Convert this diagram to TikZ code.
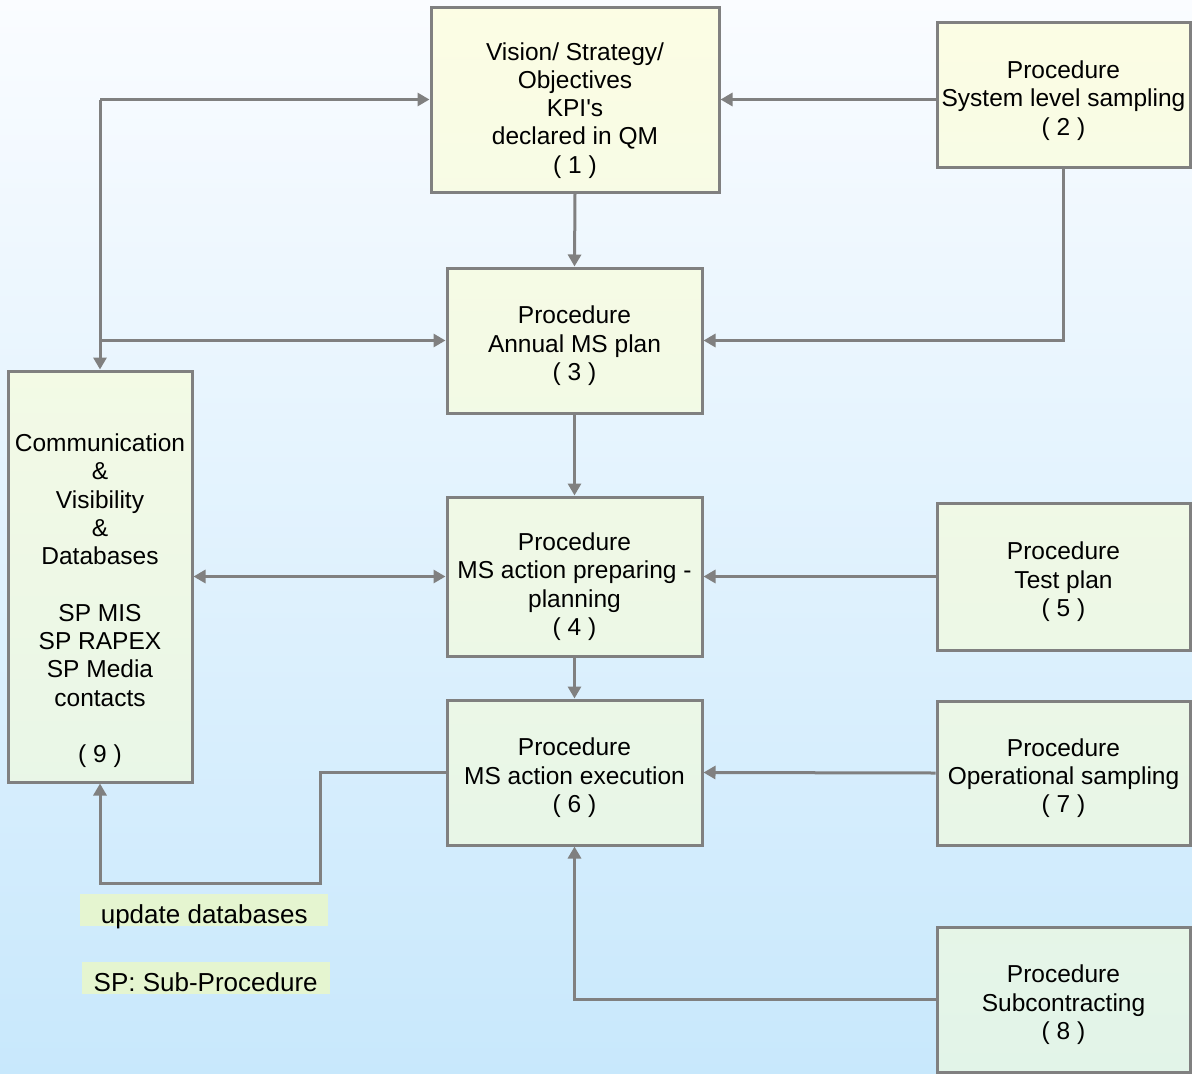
\documentclass[tikz,border=0pt]{standalone}
\usepackage{fontspec}
\setmainfont{Liberation Sans}
\usetikzlibrary{arrows.meta}

\definecolor{linegray}{RGB}{128,128,128}
\definecolor{bgtop}{RGB}{250,252,255}
\definecolor{bgbot}{RGB}{200,232,252}
\definecolor{boxtop}{RGB}{252,253,228}
\definecolor{boxbot}{RGB}{226,244,232}
\definecolor{notefill}{RGB}{229,245,208}

\newcommand{\topgap}[1]{\mbox{}\\[#1]}

\tikzset{
  procbox/.style 2 args={draw=linegray, line width=3pt, top color=boxbot!#1!boxtop,
    bottom color=boxbot!#2!boxtop, align=center, inner sep=2pt,
    font=\fontsize{24.5}{28.3}\selectfont},
  note/.style={fill=notefill, anchor=north west, minimum width=248pt, text height=27pt,
    text depth=0pt, inner ysep=2.5pt, font=\fontsize{26}{30}\selectfont},
  flow/.style={draw=linegray, line width=3pt, ->},
  >={Triangle[length=12pt,width=13pt]}
}

\begin{document}
\begin{tikzpicture}[x=1pt,y=-1pt]
\shade[top color=bgtop, bottom color=bgbot] (0,0) rectangle (1192,1074);
\useasboundingbox (0,0) rectangle (1192,1074);

\node[procbox={1}{18}, minimum width=288pt, minimum height=185pt] (vis) at (575,99.5)
  {\topgap{11pt}Vision/ Strategy/\\Objectives\\KPI\textquotesingle s\\declared in QM\\( 1 )};
\node[procbox={2}{16}, minimum width=253pt, minimum height=145pt] (syslvl) at (1063.5,95.3)
  {\topgap{0pt}Procedure\\System level sampling\\( 2 )};
\node[procbox={25}{38}, minimum width=255pt, minimum height=145pt] (annual) at (574.5,340.5)
  {\topgap{0pt}Procedure\\Annual MS plan\\( 3 )};
\node[procbox={46}{61}, minimum width=255pt, minimum height=159pt] (prep) at (574.5,576.5)
  {\topgap{10pt}Procedure\\MS action preparing -\\planning\\( 4 )};
\node[procbox={47}{60}, minimum width=253pt, minimum height=147pt] (testplan) at (1063.5,576.5)
  {\topgap{0pt}Procedure\\Test plan\\( 5 )};
\node[procbox={65}{79}, minimum width=255pt, minimum height=145pt] (exec) at (574.5,772.5)
  {\topgap{0pt}Procedure\\MS action execution\\( 6 )};
\node[procbox={65}{79}, minimum width=253pt, minimum height=144pt] (opsamp) at (1063.5,773)
  {\topgap{0pt}Procedure\\Operational sampling\\( 7 )};
\node[procbox={86}{100}, minimum width=253pt, minimum height=145pt] (subcon) at (1063.5,999.5)
  {\topgap{0pt}Procedure\\Subcontracting\\( 8 )};
\node[procbox={35}{73}, minimum width=184pt, minimum height=411pt] (comm) at (100,576.5)
  {\topgap{38pt}Communication\\\&\\Visibility\\\&\\Databases\\[28.3pt]SP MIS\\SP RAPEX\\SP Media\\contacts\\[28.3pt]( 9 )};

\node[note] (upd) at (80,894) {update databases};
\node[note] (legend) at (81.5,962) {SP: Sub-Procedure};

\coordinate (split) at (comm.north |- vis.west);
\coordinate (turn) at (320,883);

\draw[flow] (syslvl.west |- vis.east) -- (vis.east);
\draw[flow] (split) -- (vis.west);
\draw[flow] (split) -- (comm.north);
\draw[flow] (comm.north |- annual.west) -- (annual.west);
\draw[flow] (vis.south) -- (annual.north);
\draw[flow] (syslvl.south) |- (annual.east);
\draw[flow] (annual.south) -- (prep.north);
\draw[flow, <->] (comm.east) -- (prep.west);
\draw[flow] (testplan.west) -- (prep.east);
\draw[flow] (prep.south) -- (exec.north);
\draw[flow] (opsamp.west) -- (exec.east);
\draw[flow] (subcon.west) -| (exec.south);
\draw[flow] (exec.west) -| (turn) -| (comm.south);
\end{tikzpicture}
\end{document}
